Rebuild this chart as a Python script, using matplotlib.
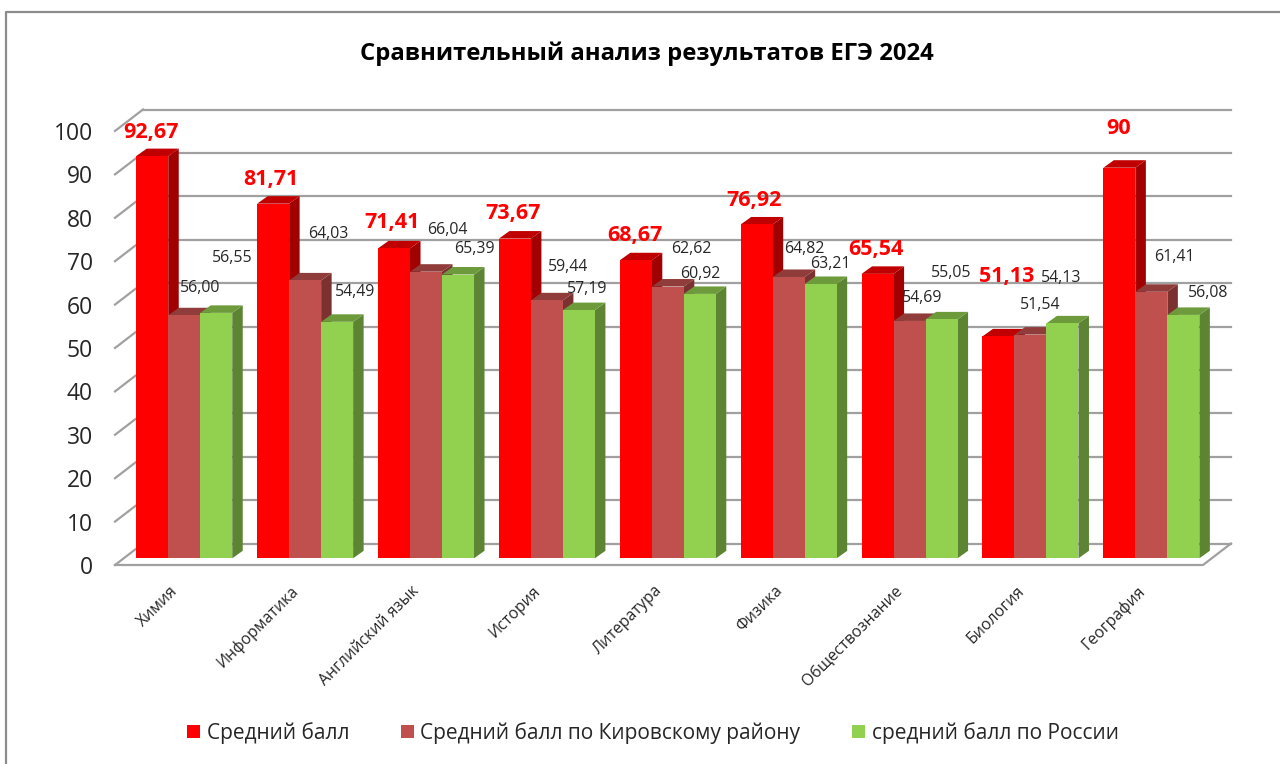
import matplotlib
matplotlib.use("Agg")
import matplotlib.pyplot as plt
from matplotlib.lines import Line2D
from matplotlib.patches import Patch, Polygon

plt.rcParams['font.family'] = ['Open Sans', 'Noto Sans', 'DejaVu Sans']

subjects = ["Химия", "Информатика", "Английский язык", "История", "Литература",
            "Физика", "Обществознание", "Биология", "География"]
school = [92.67, 81.71, 71.41, 73.67, 68.67, 76.92, 65.54, 51.13, 90]
district = [56.00, 64.03, 66.04, 59.44, 62.62, 64.82, 54.69, 51.54, 61.41]
russia = [56.55, 54.49, 65.39, 57.19, 60.92, 63.21, 55.05, 54.13, 56.08]
school_text = ["92,67", "81,71", "71,41", "73,67", "68,67", "76,92", "65,54", "51,13", "90"]
district_text = ["56,00", "64,03", "66,04", "59,44", "62,62", "64,82", "54,69", "51,54", "61,41"]
russia_text = ["56,55", "54,49", "65,39", "57,19", "60,92", "63,21", "55,05", "54,13", "56,08"]

# labels were dragged by hand in the original, offsets in pixels from bar top
school_off = [(-1, 24), (-2, 24), (-2, 26), (-2, 25), (-1, 25), (-3, 24), (-2, 24), (8, 60), (-1, 39)]
district_off = [(16, 27), (23, 46), (21, 42), (21, 33), (24, 38), (16, 28), (13, 23), (10, 30), (23, 35)]
russia_off = [(16, 55), (18, 30), (16, 26), (8, 21), (0, 20), (10, 20), (10, 46), (-1, 45), (25, 22)]

W, H = 1280, 764
fig = plt.figure(figsize=(W / 100, H / 100), dpi=100)
ax = fig.add_axes([115 / W, (H - 565) / H, 1088 / W, 434 / H])
ax.set_xlim(-0.5, 8.5)
ax.set_ylim(0, 100)
for s in ax.spines.values():
    s.set_visible(False)
ax.patch.set_visible(False)

# fake 3D: pixel sizes turned into data units
px = 9 / 1088
py = 100 / 434
wall_dx, wall_dy = 28 * px, 21.5 * py
front_dx, front_dy = 8.8 * px, 6.7 * py
bar_dx, bar_dy = 10.5 * px, 7.5 * py
bar_w = 32 * px

grid = '#a0a0a0'
for v in range(0, 101, 10):
    ax.plot([-0.5 + wall_dx, 8.5 + wall_dx], [v + wall_dy] * 2, color=grid, lw=1.6, clip_on=False, zorder=1)
    ax.plot([-0.5, -0.5 + wall_dx], [v, v + wall_dy], color=grid, lw=1.6, clip_on=False, zorder=1)
ax.plot([-0.5, 8.5, 8.5 + wall_dx], [0, 0, wall_dy], color=grid, lw=1.6, clip_on=False, zorder=1)

series = [
    (school, '#ff0000', '#c00000', '#a00000'),
    (district, '#c0504d', '#8f3c3a', '#7a3130'),
    (russia, '#92d050', '#6d9b3c', '#5d8433'),
]
z = 2
for i in range(len(subjects)):
    for k, (vals, front, top, side) in enumerate(series):
        left = i + front_dx + (k - 1.5) * bar_w
        right = left + bar_w
        y0 = front_dy
        y1 = vals[i] + front_dy
        ax.add_patch(Polygon([(right, y0), (right + bar_dx, y0 + bar_dy),
                              (right + bar_dx, y1 + bar_dy), (right, y1)],
                             fc=side, ec='none', zorder=z, clip_on=False))
        ax.add_patch(Polygon([(left, y1), (left + bar_dx, y1 + bar_dy),
                              (right + bar_dx, y1 + bar_dy), (right, y1)],
                             fc=top, ec='none', zorder=z, clip_on=False))
        ax.bar(left, vals[i], bar_w, bottom=y0, align='edge', color=front, zorder=z, clip_on=False)
        z += 1

texts = [(school, school_text, school_off), (district, district_text, district_off), (russia, russia_text, russia_off)]
for k, (vals, labels, offs) in enumerate(texts):
    for i in range(len(subjects)):
        xb = i + front_dx + (k - 1) * bar_w
        if k == 0:
            ax.annotate(labels[i], (xb, vals[i] + front_dy), xytext=offs[i], textcoords='offset pixels',
                        ha='center', va='center', color='#ff0000', fontsize=15.5, fontweight='bold', zorder=100)
        else:
            ax.annotate(labels[i], (xb, vals[i] + front_dy), xytext=offs[i], textcoords='offset pixels',
                        ha='center', va='center', color='#262626', fontsize=11.4, zorder=100)

ax.set_xticks(range(len(subjects)))
ax.set_xticklabels(subjects, rotation=45, ha='right', va='center', rotation_mode='anchor',
                   fontsize=11.4, color='#262626')
ax.set_yticks(range(0, 101, 10))
ax.tick_params(axis='x', length=0, pad=17)
ax.tick_params(axis='y', length=0, pad=16, labelsize=16.5, labelcolor='#262626')

fig.text(647 / W, 1 - 54 / H, "Сравнительный анализ результатов ЕГЭ 2024", ha='center', va='center',
         fontsize=17.2, fontweight='bold', color='black')

handles = [Patch(fc=c[1], ec='none') for c in series]
fig.legend(handles, ["Средний балл", "Средний балл по Кировскому району", "средний балл по России"],
           ncol=3, loc='center', bbox_to_anchor=(653 / W, 1 - 733 / H), frameon=False, fontsize=15,
           labelcolor='#262626', handlelength=0.62, handleheight=0.62, handletextpad=0.3, columnspacing=2.5)

# outer chart border, only top and left are in the crop
fig.add_artist(Line2D([6 / W, 6 / W, 1], [0, 1 - 12 / H, 1 - 12 / H], color='#8c8c8c', lw=1.6))

fig.savefig('out.png', dpi=100)
